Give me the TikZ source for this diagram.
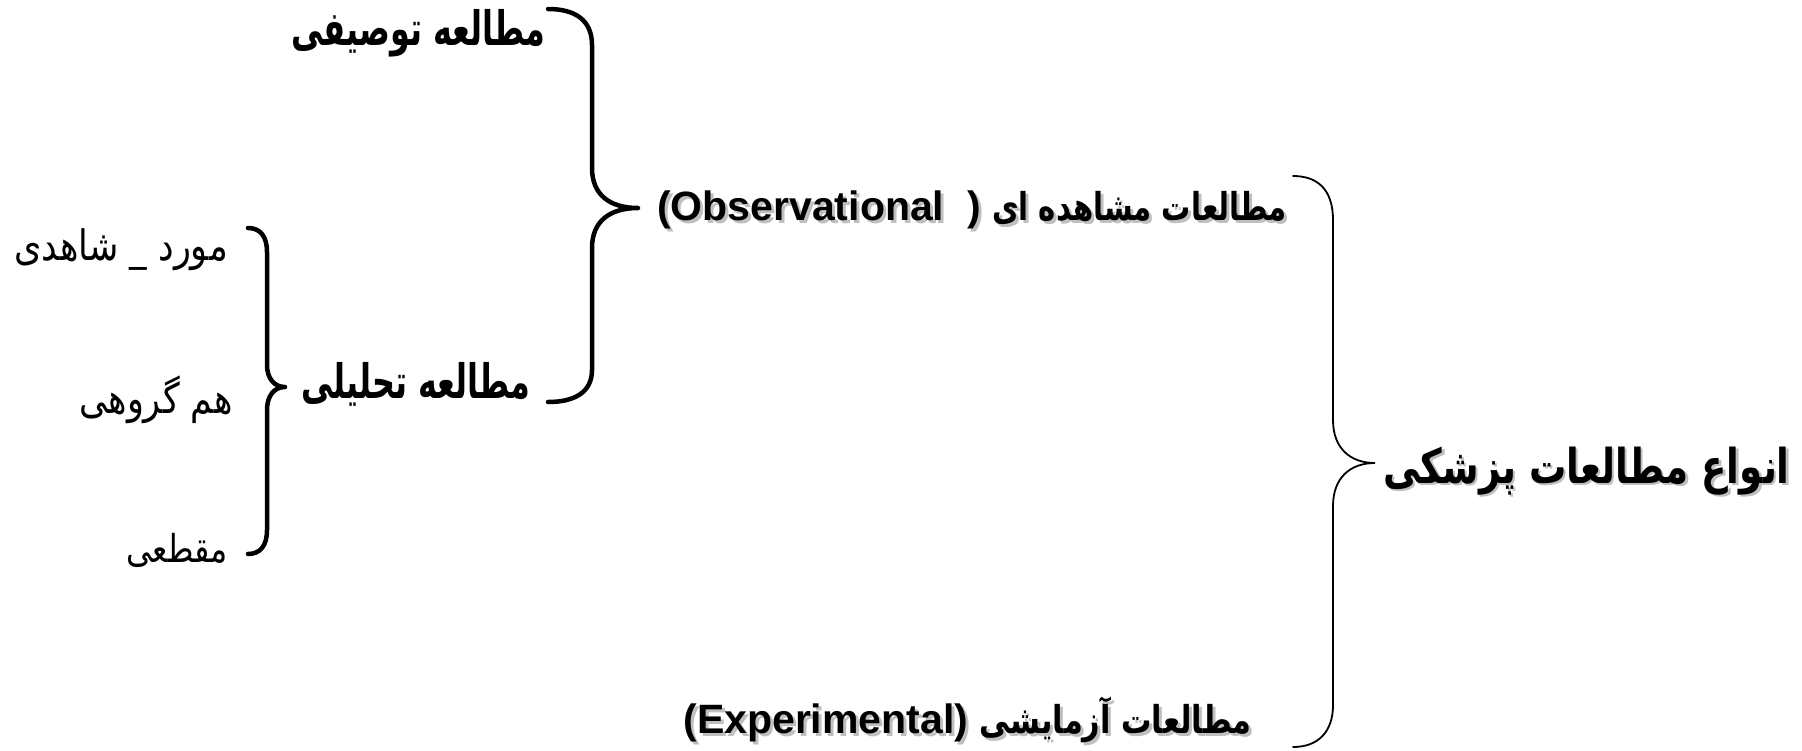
\documentclass[tikz,border=0pt]{standalone}
\usepackage{fontspec}
\usepackage{graphicx}
\TeXXeTstate=1
\newfontfamily\arb[Script=Arabic]{DejaVu Sans}
\newfontfamily\lat{Liberation Sans}
\tikzset{
  thickbrace/.style={line width=4.5pt, line cap=round, line join=round},
  thinbrace/.style={line width=1.8pt, line cap=round},
  lbl/.style={inner sep=0pt, anchor=east},
  shadowtxt/.style={inner sep=0pt, anchor=east, text=black!25},
}
\newcommand{\ar}[1]{{\arb\beginR #1\endR}}
\newcommand{\titletext}{\fontsize{40}{46}\selectfont\bfseries\scalebox{0.93}[1.2]{\ar{انواع مطالعات پزشکی}}}
\newcommand{\obstext}{\fontsize{41}{46}\selectfont\bfseries\lat (Observational\ \ )\ \fontsize{32}{38}\selectfont\scalebox{0.91}[1.2]{\ar{مطالعات مشاهده ای}}}
\newcommand{\exptext}{\fontsize{41}{46}\selectfont\bfseries\lat (Experimental)\ \fontsize{32}{38}\selectfont\scalebox{0.95}[1.2]{\ar{مطالعات آزمایشی}}}
\begin{document}
\begin{tikzpicture}[x=1pt,y=-1pt]
\useasboundingbox (0,0) rectangle (1802,750);
% title
\node[shadowtxt] at (1792.5,473.5) {\titletext};
\node[lbl] (title) at (1790,471) {\titletext};
% observational
\node[shadowtxt] at (1290,213) {\obstext};
\node[lbl] (obs) at (1287,210) {\obstext};
% experimental
\node[shadowtxt] at (1255,723) {\exptext};
\node[lbl] (exp) at (1252,720) {\exptext};
% second level
\node[lbl] (desc) at (546,33) {\fontsize{38}{44}\selectfont\bfseries\scalebox{0.84}[1.25]{\ar{مطالعه توصیفی}}};
\node[lbl] (anal) at (531,384) {\fontsize{38}{44}\selectfont\bfseries\scalebox{0.84}[1.25]{\ar{مطالعه تحلیلی}}};
% third level
\node[lbl] (case) at (228,250) {\fontsize{35}{40}\selectfont\scalebox{1}[1.2]{\ar{مورد \_ شاهدی}}};
\node[lbl] (cohort) at (233,400) {\fontsize{35}{40}\selectfont\scalebox{1}[1.2]{\ar{هم گروهی}}};
\node[lbl] (cross) at (228,550) {\fontsize{32}{38}\selectfont\scalebox{1}[1.2]{\ar{مقطعی}}};
% brace coordinates
\coordinate (bT) at (1293,176);
\coordinate (bM) at (1375,463);
\coordinate (bB) at (1293,747);
\coordinate (mT) at (548,9);
\coordinate (mM) at (638,208);
\coordinate (mB) at (548,402);
\coordinate (lT) at (248,228);
\coordinate (lM) at (285,387);
\coordinate (lB) at (248,554);
% big thin brace
\draw[thinbrace] (bT) .. controls (1318,176) and (1333,190) .. (1333,220) -- (1333,420)
  .. controls (1333,448) and (1350,463) .. (bM)
  .. controls (1350,463) and (1333,478) .. (1333,506) -- (1333,705)
  .. controls (1333,732) and (1318,747) .. (bB);
% middle thick brace
\draw[thickbrace] (mT) .. controls (575,9) and (592,20) .. (592,45) -- (592,168)
  .. controls (592,195) and (610,208) .. (mM)
  .. controls (610,208) and (592,221) .. (592,248) -- (592,370)
  .. controls (592,392) and (575,402) .. (mB);
% left thick brace
\draw[thickbrace] (lT) .. controls (260,228) and (267,236) .. (267,252) -- (267,365)
  .. controls (267,378) and (274,387) .. (lM)
  .. controls (274,387) and (267,396) .. (267,410) -- (267,530)
  .. controls (267,546) and (260,554) .. (lB);
\end{tikzpicture}
\end{document}
